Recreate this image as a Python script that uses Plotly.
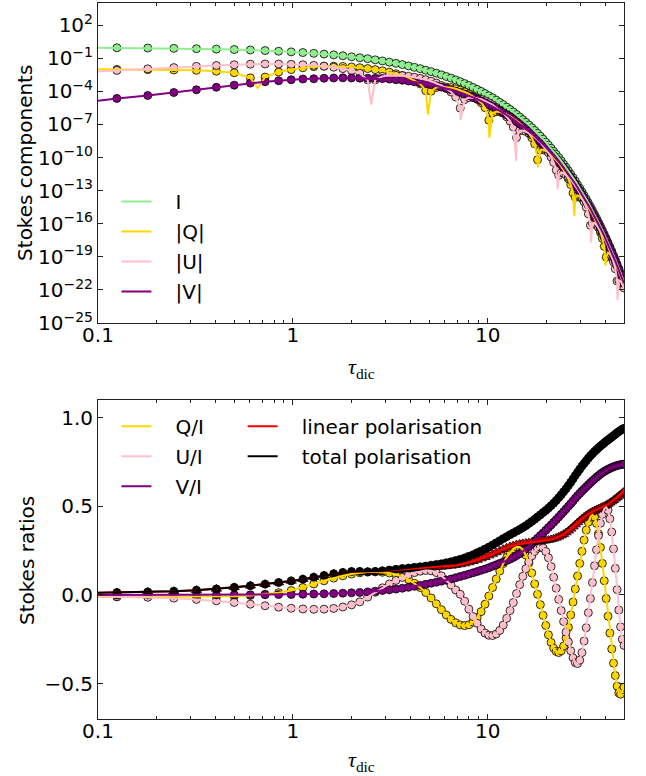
import numpy as np
import plotly.graph_objects as go

# optical depth of every sampled point (marker positions)
tau = [0.125, 0.18, 0.245, 0.32, 0.405, 0.5, 0.605, 0.72, 0.845, 0.98,
       1.125, 1.28, 1.445, 1.62, 1.805, 2.0, 2.205, 2.42, 2.645, 2.88,
       3.125, 3.38, 3.645, 3.92, 4.205, 4.5, 4.805, 5.12, 5.445, 5.78,
       6.125, 6.48, 6.845, 7.22, 7.605, 8.0, 8.405, 8.82, 9.245, 9.68,
       10.125, 10.58, 11.045, 11.52, 12.005, 12.5, 13.005, 13.52, 14.045, 14.58,
       15.125, 15.68, 16.245, 16.82, 17.405, 18.0, 18.605, 19.22, 19.845, 20.48,
       21.125, 21.78, 22.445, 23.12, 23.805, 24.5, 25.205, 25.92, 26.645, 27.38,
       28.125, 28.88, 29.645, 30.42, 31.205, 32.0, 32.805, 33.62, 34.445, 35.28,
       36.125, 36.98, 37.845, 38.72, 39.605, 40.5, 41.405, 42.32, 43.245, 44.18,
       45.125, 46.08, 47.045, 48.02, 49.005, 50.0]

# log10 of Stokes I
log_stokes_i = [-0.06, -0.08, -0.11, -0.14, -0.18, -0.22, -0.26, -0.31, -0.37, -0.43,
                -0.49, -0.56, -0.63, -0.70, -0.78, -0.87, -0.96, -1.05, -1.15, -1.25,
                -1.36, -1.47, -1.58, -1.70, -1.83, -1.95, -2.09, -2.22, -2.36, -2.51,
                -2.66, -2.81, -2.97, -3.13, -3.30, -3.47, -3.65, -3.83, -4.01, -4.20,
                -4.40, -4.59, -4.80, -5.00, -5.21, -5.43, -5.65, -5.87, -6.10, -6.33,
                -6.57, -6.81, -7.05, -7.30, -7.55, -7.81, -8.07, -8.34, -8.61, -8.88,
                -9.16, -9.44, -9.72, -10.01, -10.30, -10.60, -10.90, -11.20, -11.51, -11.82,
                -12.14, -12.46, -12.78, -13.11, -13.44, -13.77, -14.11, -14.45, -14.80, -15.15,
                -15.50, -15.86, -16.22, -16.59, -16.96, -17.33, -17.71, -18.09, -18.48, -18.87,
                -19.26, -19.66, -20.06, -20.46, -20.87, -21.28]

q_ratio = [-0.011, -0.011, -0.011, -0.011, -0.010, -0.008, -0.003, 0.004, 0.013, 0.025,
           0.042, 0.062, 0.080, 0.095, 0.108, 0.118, 0.125, 0.129, 0.130, 0.128,
           0.124, 0.116, 0.104, 0.087, 0.066, 0.042, 0.014, -0.017, -0.050, -0.083,
           -0.113, -0.138, -0.157, -0.169, -0.173, -0.168, -0.153, -0.128, -0.094, -0.052,
           -0.006, 0.042, 0.090, 0.135, 0.177, 0.212, 0.240, 0.260, 0.271, 0.270,
           0.255, 0.225, 0.180, 0.124, 0.062, 0.004, -0.055, -0.115, -0.172, -0.225,
           -0.268, -0.300, -0.319, -0.325, -0.315, -0.288, -0.243, -0.183, -0.113, -0.040,
           0.034, 0.107, 0.178, 0.246, 0.310, 0.366, 0.410, 0.440, 0.452, 0.440,
           0.404, 0.345, 0.268, 0.178, 0.080, -0.020, -0.120, -0.215, -0.305, -0.385,
           -0.455, -0.515, -0.553, -0.560, -0.535, -0.520]

u_ratio = [-0.009, -0.013, -0.018, -0.025, -0.033, -0.042, -0.052, -0.061, -0.069, -0.075,
           -0.079, -0.081, -0.080, -0.076, -0.068, -0.056, -0.039, -0.012, 0.015, 0.040,
           0.062, 0.082, 0.099, 0.114, 0.126, 0.134, 0.138, 0.136, 0.126, 0.108,
           0.084, 0.056, 0.028, 0.004, -0.035, -0.080, -0.122, -0.160, -0.192, -0.215,
           -0.227, -0.229, -0.220, -0.200, -0.170, -0.132, -0.088, -0.043, 0.008, 0.058,
           0.105, 0.148, 0.187, 0.220, 0.246, 0.263, 0.270, 0.265, 0.245, 0.210,
           0.160, 0.100, 0.038, -0.025, -0.088, -0.150, -0.210, -0.265, -0.315, -0.355,
           -0.382, -0.387, -0.368, -0.325, -0.260, -0.185, -0.100, -0.020, 0.070, 0.165,
           0.255, 0.335, 0.405, 0.455, 0.486, 0.495, 0.478, 0.430, 0.355, 0.260,
           0.150, 0.030, -0.085, -0.180, -0.250, -0.285]

v_ratio = [0.000026, 0.00005, 0.0001, 0.00019, 0.00035, 0.0006, 0.001, 0.0015, 0.0021, 0.003,
           0.004, 0.005, 0.0065, 0.008, 0.010, 0.012, 0.014, 0.017, 0.021, 0.025,
           0.029, 0.033, 0.038, 0.043, 0.049, 0.054, 0.060, 0.066, 0.072, 0.078,
           0.084, 0.090, 0.097, 0.104, 0.111, 0.118, 0.125, 0.132, 0.139, 0.146,
           0.154, 0.162, 0.170, 0.178, 0.186, 0.194, 0.202, 0.212, 0.222, 0.233,
           0.245, 0.260, 0.275, 0.290, 0.305, 0.320, 0.335, 0.350, 0.365, 0.380,
           0.395, 0.410, 0.425, 0.440, 0.455, 0.470, 0.485, 0.500, 0.515, 0.530,
           0.545, 0.560, 0.573, 0.586, 0.598, 0.610, 0.622, 0.633, 0.644, 0.654,
           0.664, 0.673, 0.682, 0.690, 0.697, 0.703, 0.709, 0.714, 0.719, 0.723,
           0.727, 0.730, 0.733, 0.735, 0.737, 0.738]

lin_pol = [0.014, 0.017, 0.021, 0.027, 0.034, 0.043, 0.052, 0.061, 0.070, 0.079,
           0.089, 0.100, 0.110, 0.120, 0.127, 0.131, 0.132, 0.130, 0.131, 0.134,
           0.138, 0.141, 0.144, 0.146, 0.148, 0.150, 0.152, 0.154, 0.156, 0.158,
           0.161, 0.164, 0.168, 0.172, 0.177, 0.183, 0.190, 0.197, 0.205, 0.213,
           0.222, 0.231, 0.240, 0.249, 0.258, 0.266, 0.273, 0.279, 0.284, 0.288,
           0.291, 0.293, 0.295, 0.297, 0.299, 0.301, 0.303, 0.305, 0.307, 0.310,
           0.313, 0.317, 0.322, 0.328, 0.335, 0.343, 0.352, 0.362, 0.373, 0.385,
           0.397, 0.409, 0.420, 0.430, 0.440, 0.449, 0.457, 0.464, 0.470, 0.476,
           0.481, 0.486, 0.491, 0.496, 0.501, 0.507, 0.513, 0.520, 0.527, 0.535,
           0.543, 0.551, 0.559, 0.567, 0.575, 0.582]

tot_pol = [0.014, 0.017, 0.021, 0.027, 0.034, 0.043, 0.052, 0.061, 0.070, 0.079,
           0.089, 0.100, 0.110, 0.120, 0.127, 0.132, 0.133, 0.131, 0.133, 0.136,
           0.141, 0.145, 0.149, 0.152, 0.156, 0.159, 0.163, 0.168, 0.172, 0.176,
           0.182, 0.187, 0.194, 0.201, 0.209, 0.218, 0.227, 0.238, 0.248, 0.259,
           0.270, 0.282, 0.294, 0.306, 0.318, 0.329, 0.340, 0.350, 0.360, 0.370,
           0.380, 0.391, 0.403, 0.415, 0.427, 0.440, 0.452, 0.465, 0.477, 0.490,
           0.504, 0.518, 0.533, 0.549, 0.565, 0.582, 0.599, 0.617, 0.636, 0.655,
           0.674, 0.692, 0.710, 0.727, 0.742, 0.757, 0.772, 0.785, 0.797, 0.809,
           0.820, 0.830, 0.840, 0.849, 0.858, 0.867, 0.875, 0.883, 0.891, 0.899,
           0.907, 0.915, 0.922, 0.929, 0.935, 0.940]

# curves start at the left edge, before the first marker
tau_start = 0.1
start_log_i = -0.045
start_q, start_u, start_v = -0.011, -0.007, 0.000015
start_lin, start_tot = 0.012, 0.012

# sharp dips of |Q| and |U| at sign changes (only the curves reach them)
q_dip_tau = [0.66, 4.93, 10.18, 18.05, 27.8, 40.2]
q_dip_log = [-3.7, -6.1, -8.2, -10.9, -15.3, -19.8]
u_dip_tau = [2.52, 7.25, 14.0, 22.86, 33.9, 46.3]
u_dip_log = [-5.2, -6.6, -10.3, -12.9, -17.7, -22.9]

GREEN, GOLD, PINK, PURPLE = "#90EE90", "#FFD700", "#FFC0CB", "#800080"
FONT = "DejaVu Sans"
FS = 20
AXCOL = "#222222"

t = np.array(tau)
I = 10 ** np.array(log_stokes_i)
I0 = 10 ** start_log_i
absQ = I * np.abs(q_ratio)
absU = I * np.abs(u_ratio)
absV = I * np.abs(v_ratio)


def curve(y, y0, dip_x=(), dip_y=()):
    xx = np.concatenate([[tau_start], t, dip_x])
    yy = np.concatenate([[y0], y, dip_y])
    o = np.argsort(xx)
    return xx[o], yy[o]


def dots(x, y, color, xa, ya, symbol="circle", size=8):
    return go.Scatter(x=x, y=y, mode="markers", xaxis=xa, yaxis=ya, showlegend=False,
                      hoverinfo="skip",
                      marker=dict(symbol=symbol, size=size, color=color,
                                  line=dict(color="black", width=0.8)))


def line(x, y, color, name, xa, ya, legend):
    return go.Scatter(x=x, y=y, mode="lines", xaxis=xa, yaxis=ya, name="\u00a0\u00a0\u00a0" + name,
                      legend=legend, legendgroup=name, hoverinfo="skip",
                      line=dict(color=color, width=2))


fig = go.Figure()

# top panel: Stokes components
for y, c in [(I, GREEN), (absQ, GOLD), (absU, PINK), (absV, PURPLE)]:
    fig.add_trace(dots(t, y, c, "x", "y"))
top_lines = [
    (curve(I, I0), GREEN, "I"),
    (curve(absQ, I0 * abs(start_q), q_dip_tau, 10 ** np.array(q_dip_log)), GOLD, "|Q|"),
    (curve(absU, I0 * abs(start_u), u_dip_tau, 10 ** np.array(u_dip_log)), PINK, "|U|"),
    (curve(absV, I0 * abs(start_v)), PURPLE, "|V|"),
]
for (xx, yy), c, n in top_lines:
    fig.add_trace(line(xx, yy, c, n, "x", "y", "legend"))

# bottom panel: Stokes ratios
fig.add_trace(dots(t, q_ratio, GOLD, "x2", "y2"))
fig.add_trace(dots(t, u_ratio, PINK, "x2", "y2"))
fig.add_trace(dots(t, v_ratio, PURPLE, "x2", "y2"))
fig.add_trace(dots(t, lin_pol, "red", "x2", "y2", symbol="triangle-up", size=9))
fig.add_trace(dots(t, tot_pol, "black", "x2", "y2"))
bottom_lines = [
    (curve(q_ratio, start_q), GOLD, "Q/I", "legend2"),
    (curve(u_ratio, start_u), PINK, "U/I", "legend2"),
    (curve(v_ratio, start_v), PURPLE, "V/I", "legend2"),
    (curve(lin_pol, start_lin), "red", "linear polarisation", "legend3"),
    (curve(tot_pol, start_tot), "black", "total polarisation", "legend3"),
]
for (xx, yy), c, n, lg in bottom_lines:
    fig.add_trace(line(xx, yy, c, n, "x2", "y2", lg))

minor_x = [m * 10.0 ** e for e in (-1, 0, 1) for m in range(2, 10) if m * 10.0 ** e < 50]

xcommon = dict(type="log", range=[-1, np.log10(50)], tickvals=[0.1, 1, 10],
               ticktext=["0.1", "1", "10"], ticks="inside", ticklen=5, tickcolor=AXCOL,
               mirror="ticks", showline=True, linecolor=AXCOL, linewidth=1,
               showgrid=False, zeroline=False, ticklabelstandoff=-6,
               minor=dict(tickvals=minor_x, ticks="inside", ticklen=3, tickcolor=AXCOL),
               tickfont=dict(family=FONT, size=FS, color="black"))

ycommon = dict(ticks="inside", ticklen=5, tickcolor=AXCOL, mirror="ticks", showline=True,
               linecolor=AXCOL, linewidth=1, showgrid=False, zeroline=False,
               ticklabelstandoff=0, tickfont=dict(family=FONT, size=FS, color="black"))

legend_style = dict(xanchor="left", yanchor="top", bgcolor="rgba(0,0,0,0)",
                    font=dict(family=FONT, size=FS, color="black"), tracegroupgap=1)

label_font = dict(family=FONT, size=FS, color="black")
tau_font = dict(family="Liberation Serif", size=22, color="black")

exps = list(range(-25, 3, 3))
fig.update_layout(
    width=646, height=776,
    margin=dict(l=98, r=22, t=3, b=57),
    paper_bgcolor="white", plot_bgcolor="white",
    xaxis=dict(xcommon, domain=[0, 1], anchor="y"),
    xaxis2=dict(xcommon, domain=[0, 1], anchor="y2"),
    yaxis=dict(ycommon, type="log", range=[-25, 4], domain=[0.553, 1], anchor="x",
               tickvals=[10.0 ** e for e in exps],
               ticktext=["10<sup>%s</sup>" % str(e).replace("-", "\u2212") for e in exps]),
    yaxis2=dict(ycommon, range=[-0.7, 1.1], domain=[0, 0.4455], anchor="x2",
                tickvals=[-0.5, 0, 0.5, 1.0], ticktext=["\u22120.5", "0.0", "0.5", "1.0"]),
    legend=dict(legend_style, x=0.035, y=0.75),
    legend2=dict(legend_style, x=0.035, y=0.436),
    legend3=dict(legend_style, x=0.275, y=0.436),
    annotations=[
        dict(text="Stokes components", x=-0.139, y=0.7765, xref="paper", yref="paper",
             xanchor="center", yanchor="middle", textangle=-90, showarrow=False, font=label_font),
        dict(text="Stokes ratios", x=-0.135, y=0.222, xref="paper", yref="paper",
             xanchor="center", yanchor="middle", textangle=-90, showarrow=False, font=label_font),
        dict(text="<i>τ</i><sub>dic</sub>", x=0.5, y=0.49, xref="paper", yref="paper",
             xanchor="center", yanchor="middle", showarrow=False, font=tau_font),
        dict(text="<i>τ</i><sub>dic</sub>", x=0.5, y=-0.058, xref="paper", yref="paper",
             xanchor="center", yanchor="middle", showarrow=False, font=tau_font),
    ],
)

fig.write_html("out.html", config={"displayModeBar": False},
               post_script="document.body.style.margin='0px';")
